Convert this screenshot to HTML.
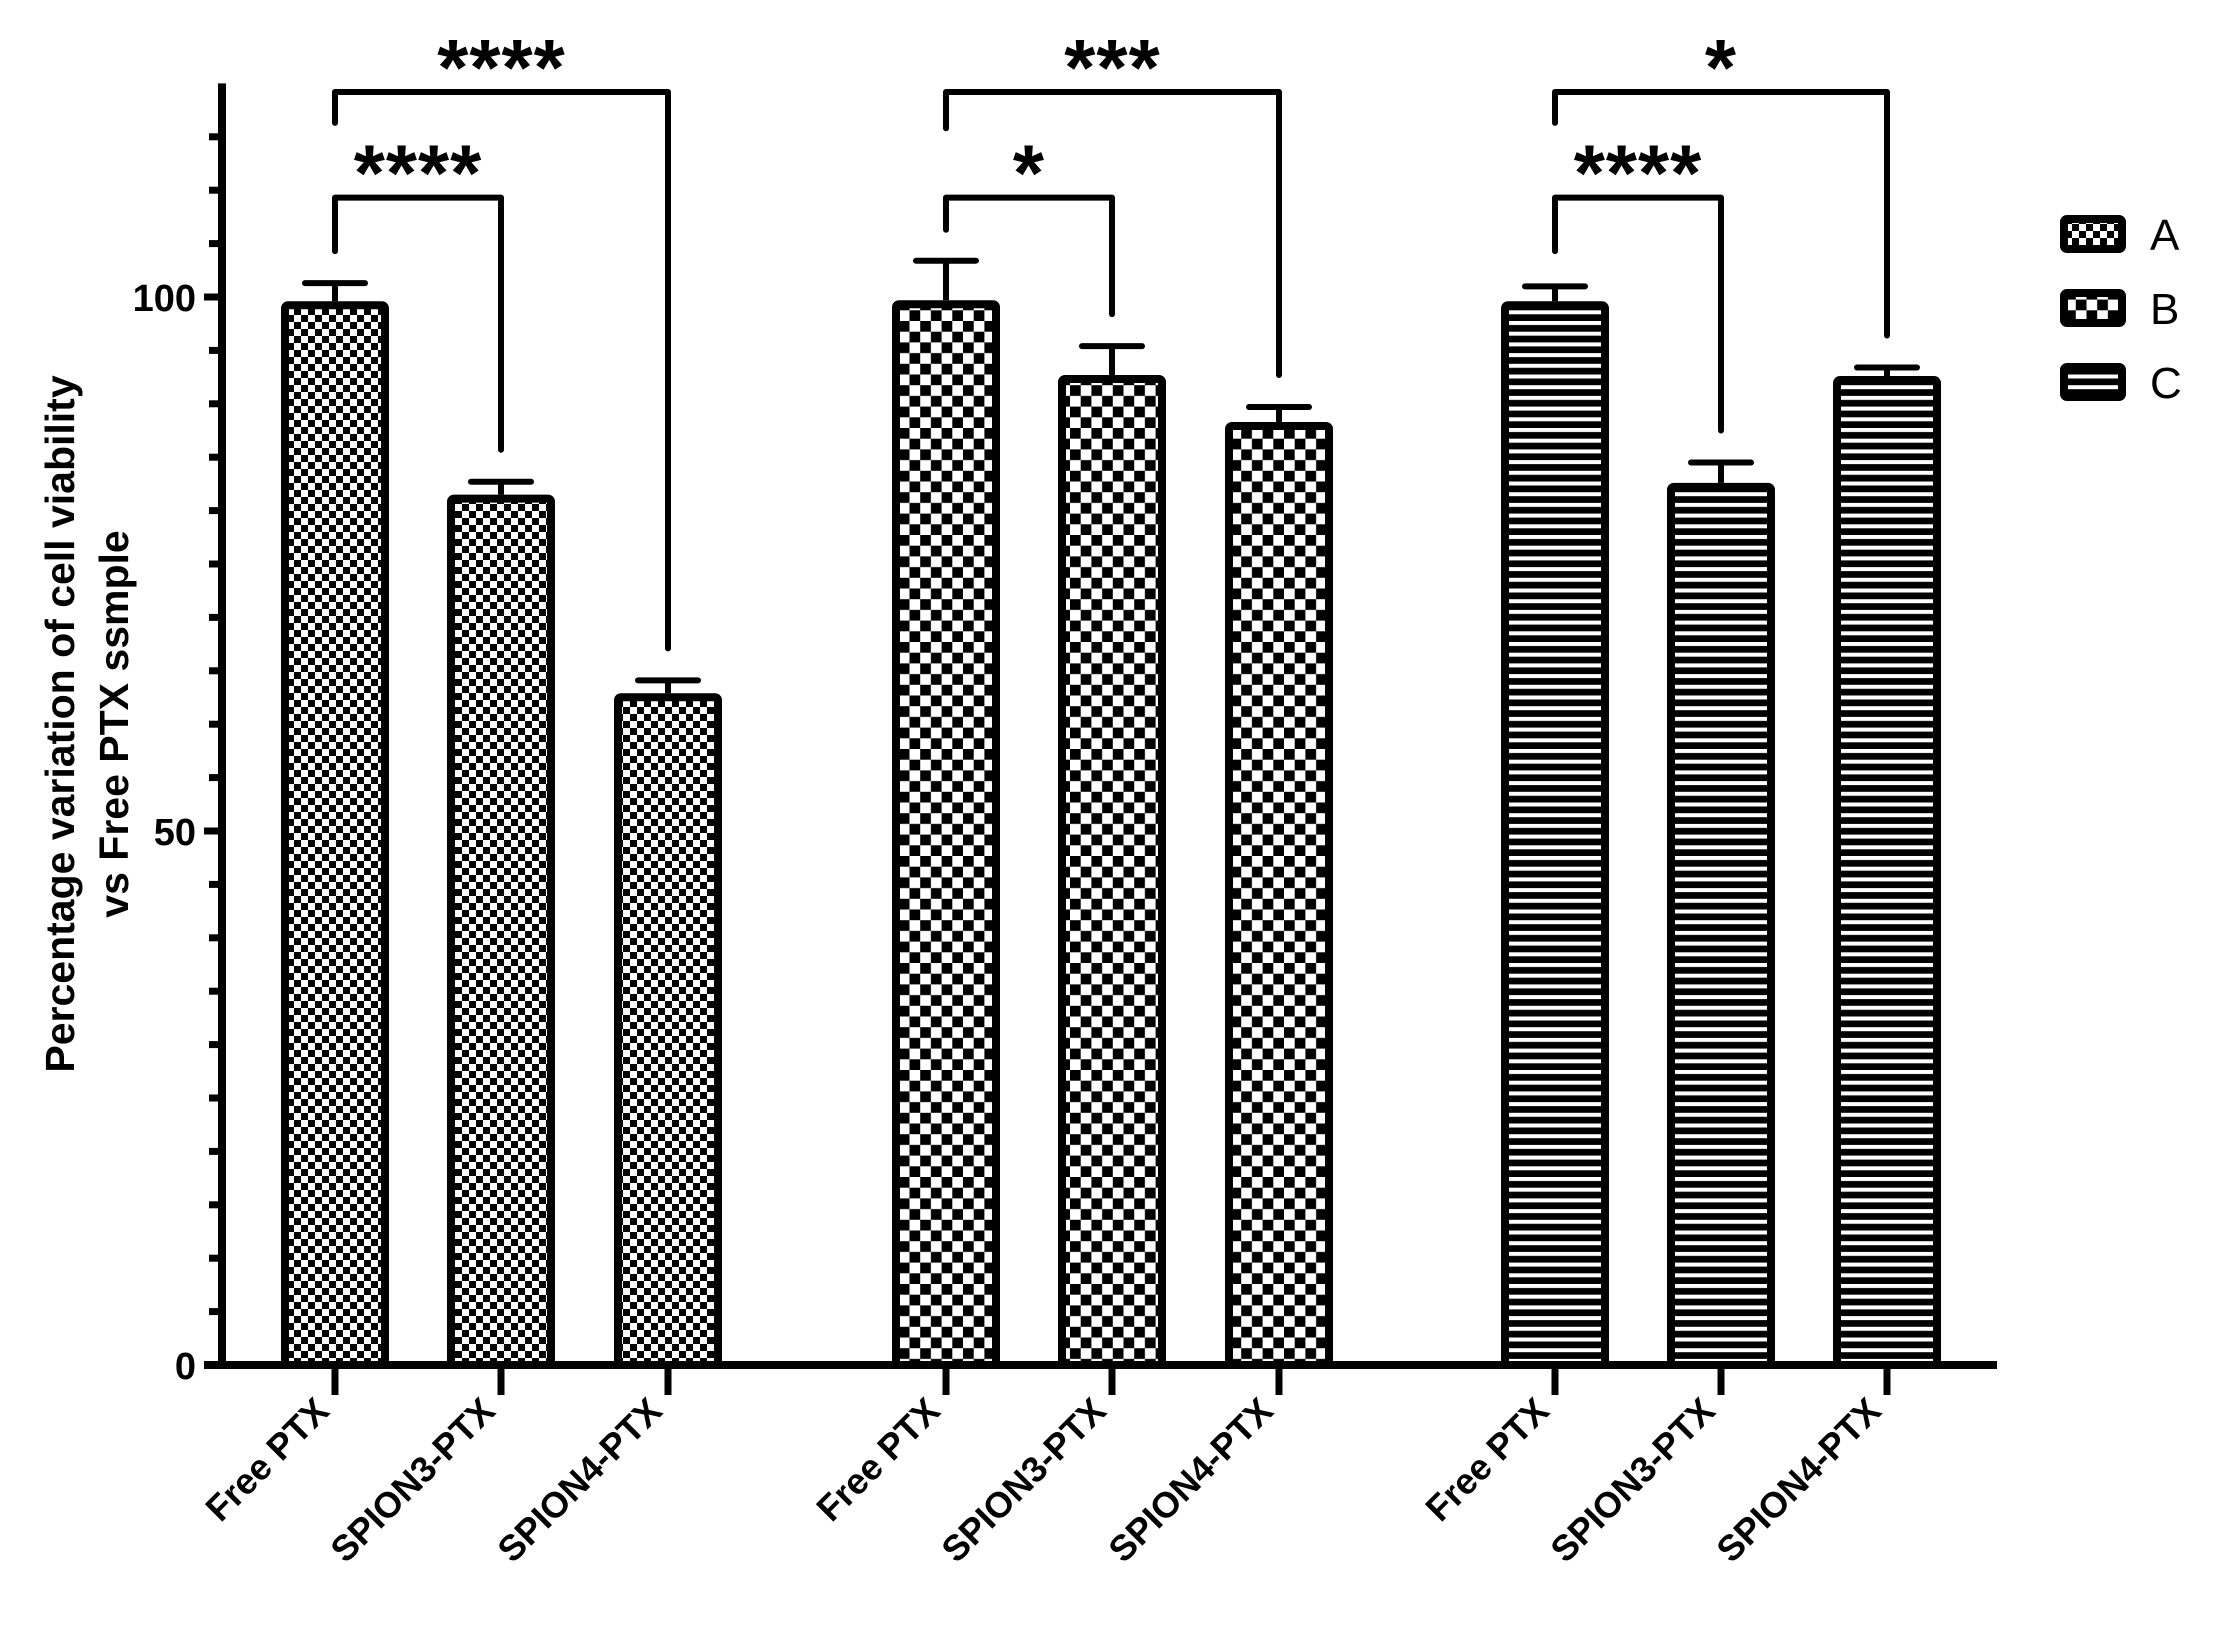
<!DOCTYPE html>
<html><head><meta charset="utf-8"><style>
html,body{margin:0;padding:0;background:#fff;}
svg{display:block;font-family:"Liberation Sans",Arial,sans-serif;}
</style></head><body>
<svg id="chart" width="2218" height="1633" viewBox="0 0 2218 1633">
<defs>
<pattern id="patA" width="14" height="14" patternUnits="userSpaceOnUse">
<rect width="14" height="14" fill="#fff"/><rect width="7" height="7" fill="#000"/><rect x="7" y="7" width="7" height="7" fill="#000"/>
</pattern>
<pattern id="patB" width="21.4" height="21.4" patternUnits="userSpaceOnUse">
<rect width="21.4" height="21.4" fill="#fff"/><rect width="10.7" height="10.7" fill="#000"/><rect x="10.7" y="10.7" width="10.7" height="10.7" fill="#000"/>
</pattern>
<pattern id="patC" width="10.7" height="10.7" patternUnits="userSpaceOnUse">
<rect width="10.7" height="10.7" fill="#000"/><rect y="0" width="10.7" height="4" fill="#fff"/>
</pattern>
</defs>
<g id="plot"></g>
<g>
<text transform="translate(74,724) rotate(-90)" text-anchor="middle" font-size="41" font-weight="bold">Percentage variation of cell viability</text>
<text transform="translate(128,724) rotate(-90)" text-anchor="middle" font-size="41" font-weight="bold">vs Free PTX ssmple</text>
</g>
</svg>
<script>
const categories = ["Free PTX","SPION3-PTX","SPION4-PTX","Free PTX","SPION3-PTX","SPION4-PTX","Free PTX","SPION3-PTX","SPION4-PTX"];
const seriesOf = ["A","A","A","B","B","B","C","C","C"];
const values = [99.6, 81.5, 62.9, 99.7, 92.7, 88.3, 99.6, 82.6, 92.6];
const errors = [1.7, 1.2, 1.2, 3.7, 2.7, 1.4, 1.4, 1.9, 0.8];
const seriesNames = ["A","B","C"];
const yTicks = [0, 50, 100];
const sigLabels = ["****","****","*","***","****","*"];
const sigFrom = [0,0,3,3,6,6];
const sigTo = [1,2,4,5,7,8];
const sigLevel = [109.3,119.2,109.3,119.2,109.3,119.2];
const sigLeftEnd = [104.3,116.3,106.3,115.8,104.3,116.3];

const NS="http://www.w3.org/2000/svg";
const g=document.getElementById('plot');
const x0=222, y0=1365, pxPerUnit=10.68, yMax=120, xEnd=1997;
const centers=[335,501,668,946,1112,1279,1555,1721,1887];
const Y=v=>y0-v*pxPerUnit;
const X=i=>centers[i];
const barW=108;
function mk(tag,attrs){const e=document.createElementNS(NS,tag);for(const k in attrs)e.setAttribute(k,attrs[k]);g.appendChild(e);return e;}
const patFor={A:'url(#patA)',B:'url(#patB)',C:'url(#patC)'};

let ya=mk('line',{x1:x0,y1:Y(yMax),x2:x0,y2:y0+4,stroke:'#000','stroke-width':8});


let xa=mk('line',{x1:x0-18,y1:y0,x2:xEnd,y2:y0,stroke:'#000','stroke-width':8});


for(let v=5;v<yMax;v+=5){
  const major=yTicks.includes(v);
  let t=mk('line',{x1:major?x0-18:x0-13,y1:Y(v),x2:x0,y2:Y(v),stroke:'#000','stroke-width':7});
  
  
}
yTicks.forEach(v=>{
  let t=mk('text',{x:x0-26,y:Y(v)+14,'text-anchor':'end','font-size':38,'font-weight':'bold'});
  t.textContent=v;
  
  
});
values.forEach((v,i)=>{
  const cx=X(i);
  let eb=mk('line',{x1:cx,y1:Y(v),x2:cx,y2:Y(v+errors[i]),stroke:'#000','stroke-width':6});
  
  
  let cap=mk('line',{x1:cx-30,y1:Y(v+errors[i]),x2:cx+30,y2:Y(v+errors[i]),stroke:'#000','stroke-width':6,'stroke-linecap':'round'});
  
  
  let r=mk('rect',{x:cx-barW/2+4,y:Y(v)+4,width:barW-8,height:y0-Y(v)-4,fill:patFor[seriesOf[i]],stroke:'#000','stroke-width':8,rx:3});
  
  
  let tk=mk('line',{x1:cx,y1:y0,x2:cx,y2:y0+30,stroke:'#000','stroke-width':7});
  
  
  let lb=mk('text',{transform:`translate(${cx-4},${y0+48}) rotate(-45)`,'text-anchor':'end','font-size':36,'font-weight':'bold'});
  lb.textContent=categories[i];
  
  
});
sigLabels.forEach((s,k)=>{
  const a=X(sigFrom[k]), b=X(sigTo[k]), yl=Y(sigLevel[k]);
  const rEnd=Y(values[sigTo[k]]+errors[sigTo[k]]+3);
  let p=mk('path',{d:`M${a},${Y(sigLeftEnd[k])} L${a},${yl} L${b},${yl} L${b},${rEnd}`,fill:'none',stroke:'#000','stroke-width':6,'stroke-linejoin':'round','stroke-linecap':'round'});
  
  
  let t=mk('text',{x:(a+b)/2,y:yl+3,'text-anchor':'middle','font-size':80,'font-weight':'bold','letter-spacing':'1'});
  t.textContent=s;
  
  
});
seriesNames.forEach((n,k)=>{
  const ly=215+k*74;
  let r=mk('rect',{x:2064,y:ly+4,width:58,height:30,fill:patFor[n],stroke:'#000','stroke-width':8,rx:3});
  
  
  let t=mk('text',{x:2150,y:ly+35,'font-size':44});
  t.textContent=n;
  
  
});
</script>
</body></html>
